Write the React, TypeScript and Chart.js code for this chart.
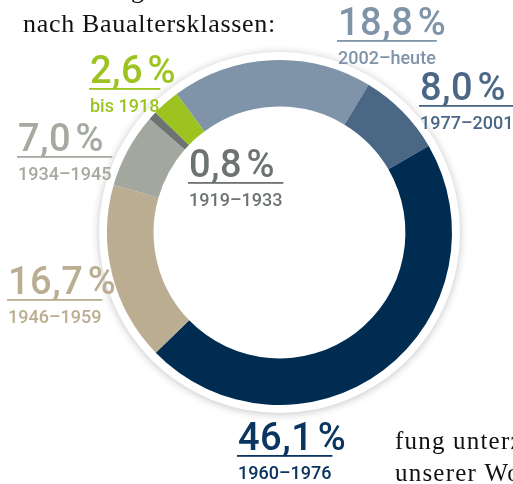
import { useEffect, useRef } from "react";
import { Chart, registerables } from "chart.js";

Chart.register(...registerables);

// Data (clockwise from the 2002–heute segment)
const periods = ["2002–heute", "1977–2001", "1960–1976", "1946–1959", "1934–1945", "1919–1933", "bis 1918"];
const shares = [18.8, 8.0, 46.1, 16.7, 7.0, 0.8, 2.6];

// Styles
const segmentColors = ["#7f94a9", "#4a6886", "#002c52", "#bbad91", "#a3a89e", "#6d7372", "#9cc31f"];
const labelColors = ["#7f94a9", "#4a6886", "#0a3560", "#bbad91", "#a5aaa1", "#6d7372", "#9cc31f"];
// label anchors: left x, baseline of the big number
const labelAnchors: [number, number][] = [
  [338, 35],
  [420, 100],
  [238, 450],
  [8, 294],
  [18, 151],
  [189, 177],
  [90, 83],
];

// Surrounding page text
const bodyLines = [
  { text: "g", x: 131, y: -2, size: 26, spacing: 0 },
  { text: "nach Baualtersklassen:", x: 23, y: 32, size: 26, spacing: 0.7 },
  { text: "fung unterz", x: 395, y: 449, size: 25, spacing: 1.2 },
  { text: "unserer Wo", x: 395, y: 481, size: 25, spacing: 1.2 },
];

const fmt = (v: number) => v.toFixed(1).replace(".", ",") + "\u200A%";

const haloPlugin = {
  id: "halo",
  beforeDatasetsDraw(chart: any) {
    const arc = chart.getDatasetMeta(0).data[0];
    if (!arc) return;
    const { x, y, outerRadius } = arc.getProps(["x", "y", "outerRadius"], true);
    const ctx = chart.ctx as CanvasRenderingContext2D;
    ctx.save();
    ctx.beginPath();
    ctx.arc(x, y, outerRadius + 8, 0, Math.PI * 2);
    ctx.fillStyle = "#ffffff";
    ctx.shadowColor = "rgba(0,0,0,0.24)";
    ctx.shadowBlur = 9;
    ctx.shadowOffsetY = 1;
    ctx.fill();
    ctx.restore();
  },
};

const labelPlugin = {
  id: "labels",
  afterDraw(chart: any) {
    const ctx = chart.ctx as CanvasRenderingContext2D;
    ctx.save();
    ctx.textAlign = "left";
    ctx.textBaseline = "alphabetic";
    shares.forEach((v, i) => {
      const [x, y] = labelAnchors[i];
      ctx.fillStyle = labelColors[i];
      ctx.font = "500 38px Roboto";
      (ctx as any).letterSpacing = "0.5px";
      ctx.fillText(fmt(v), x, y);
      (ctx as any).letterSpacing = "0px";
      ctx.font = "500 18px Roboto";
      const w = ctx.measureText(periods[i]).width;
      ctx.fillRect(x - 1, y + 5, w + 2, 1.8);
      ctx.fillText(periods[i], x, y + 29);
    });
    ctx.fillStyle = "#111111";
    bodyLines.forEach((l) => {
      ctx.font = `${l.size}px "Liberation Serif"`;
      (ctx as any).letterSpacing = `${l.spacing}px`;
      ctx.fillText(l.text, l.x, l.y);
    });
    ctx.restore();
  },
};

export default function App() {
  const ref = useRef<HTMLCanvasElement | null>(null);
  useEffect(() => {
    if (!ref.current) return;
    const chart = new Chart(ref.current, {
      type: "doughnut",
      data: {
        labels: periods,
        datasets: [
          {
            data: shares,
            backgroundColor: segmentColors,
            borderWidth: 0,
            hoverBorderWidth: 0,
            hoverOffset: 0,
          },
        ],
      },
      options: {
        responsive: false,
        animation: false,
        cutout: "73%",
        rotation: -36.6,
        layout: { padding: { left: 107, top: 60, right: 61, bottom: 79 } },
        plugins: { legend: { display: false }, tooltip: { enabled: false } },
        events: [],
      },
      plugins: [haloPlugin, labelPlugin],
    });
    return () => chart.destroy();
  }, []);
  return (
    <div style={{ position: "fixed", left: 0, top: 0, width: 513, height: 484, background: "#fff" }}>
      <canvas ref={ref} width={513} height={484} style={{ width: 513, height: 484, display: "block" }} />
    </div>
  );
}
